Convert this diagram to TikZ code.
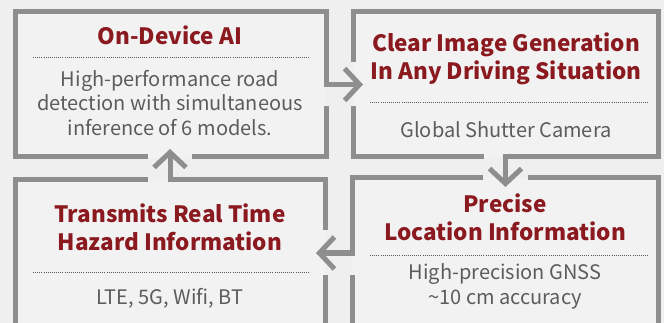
\documentclass[tikz,border=0pt]{standalone}
\usepackage{fontspec}
\setmainfont{Noto Sans CJK KR}
\usetikzlibrary{arrows.meta}

\definecolor{bggray}{HTML}{EFEFEF}
\definecolor{panelgray}{HTML}{F2F2F2}
\definecolor{framegray}{HTML}{8E8E8E}
\definecolor{titlered}{HTML}{8B1A20}
\definecolor{textgray}{HTML}{5C5C5C}

\tikzset{
  panel/.style={rectangle, fill=panelgray, inner sep=0pt, outer sep=0pt, anchor=north west},
  frame/.style={draw=framegray, line width=5pt, line join=miter},
  flow/.style={frame, -{Straight Barb[length=15pt,width=32pt]}},
  head/.style={text=titlered, font=\fontsize{22.5}{28.5}\selectfont\bfseries, align=center},
  info/.style={text=textgray, font=\fontsize{20}{24.5}\selectfont, align=center},
  sep/.style={draw=textgray, line width=0.9pt, dash pattern=on 0.9pt off 1.2pt},
}

\begin{document}
\begin{tikzpicture}[x=1pt,y=-1pt]
  \useasboundingbox[fill=bggray] (0,0) rectangle (664,323);
  \clip (0,0) rectangle (664,323);

  % panels
  \node[panel, minimum width=311pt, minimum height=145pt] (ai) at (15,12) {};
  \node[panel, minimum width=305pt, minimum height=145pt] (cam) at (353,12) {};
  \node[panel, minimum width=306pt, minimum height=200pt] (gnss) at (352,178) {};
  \node[panel, minimum width=310pt, minimum height=200pt] (net) at (15,180) {};

  % frames and flow between panels
  \draw[flow] ([xshift=133pt]ai.south west) -- (ai.south west) -- (ai.north west)
    -- (ai.north east) -- (ai.east) -- ([xshift=10pt]cam.west);
  \draw[frame] ([yshift=-22pt]ai.east) -- (ai.south east) -- ([xshift=-134pt]ai.south east);

  \draw[flow] ([yshift=22pt]cam.west) -- (cam.north west) -- (cam.north east)
    -- (cam.south east) -- (cam.south) -- ([yshift=-30pt]cam.south);
  \draw[frame] ([xshift=-22pt]cam.south) -- (cam.south west) -- ([yshift=-22pt]cam.west);

  \draw[flow] ([xshift=-22pt]gnss.north) -- (gnss.north west)
    -- ([yshift=-75pt]gnss.north west) -- ([xshift=-36pt,yshift=-75pt]gnss.north west);
  \draw[frame] ([yshift=-97pt]gnss.north west) -- (gnss.south west);
  \draw[frame] ([xshift=23pt]gnss.north) -- (gnss.north east) -- (gnss.south east);

  \draw[flow] ([yshift=-50pt]net.north east) -- (net.north east) -- (net.north)
    -- ([yshift=31pt]net.north);
  \draw[frame] ([xshift=-22pt]net.north) -- (net.north west) -- (net.south west);
  \draw[frame] ([yshift=-95pt]net.north east) -- (net.south east);

  % texts
  \node[head] (aiTitle) at (170,35) {On-Device AI};
  \draw[sep] (33,57) -- (310,57);
  \node[info] (aiText) at (170,103) {High-performance road\\detection with simultaneous\\inference of 6 models.};

  \node[head] (camTitle) at (506,59) {Clear Image Generation\\In Any Driving Situation};
  \draw[sep] (370,102) -- (648,102);
  \node[info] (camText) at (506,130) {Global Shutter Camera};

  \node[head] (gnssTitle) at (505,217.5) {Precise\\Location Information};
  \draw[sep] (370,255) -- (648,255);
  \node[info] (gnssText) at (505,286.5) {High-precision GNSS\\\textasciitilde10 cm accuracy};

  \node[head] (netTitle) at (170,227.5) {Transmits Real Time\\Hazard Information};
  \draw[sep] (33,272) -- (310,272);
  \node[info] (netText) at (170,298) {LTE, 5G, Wifi, BT};
\end{tikzpicture}
\end{document}
